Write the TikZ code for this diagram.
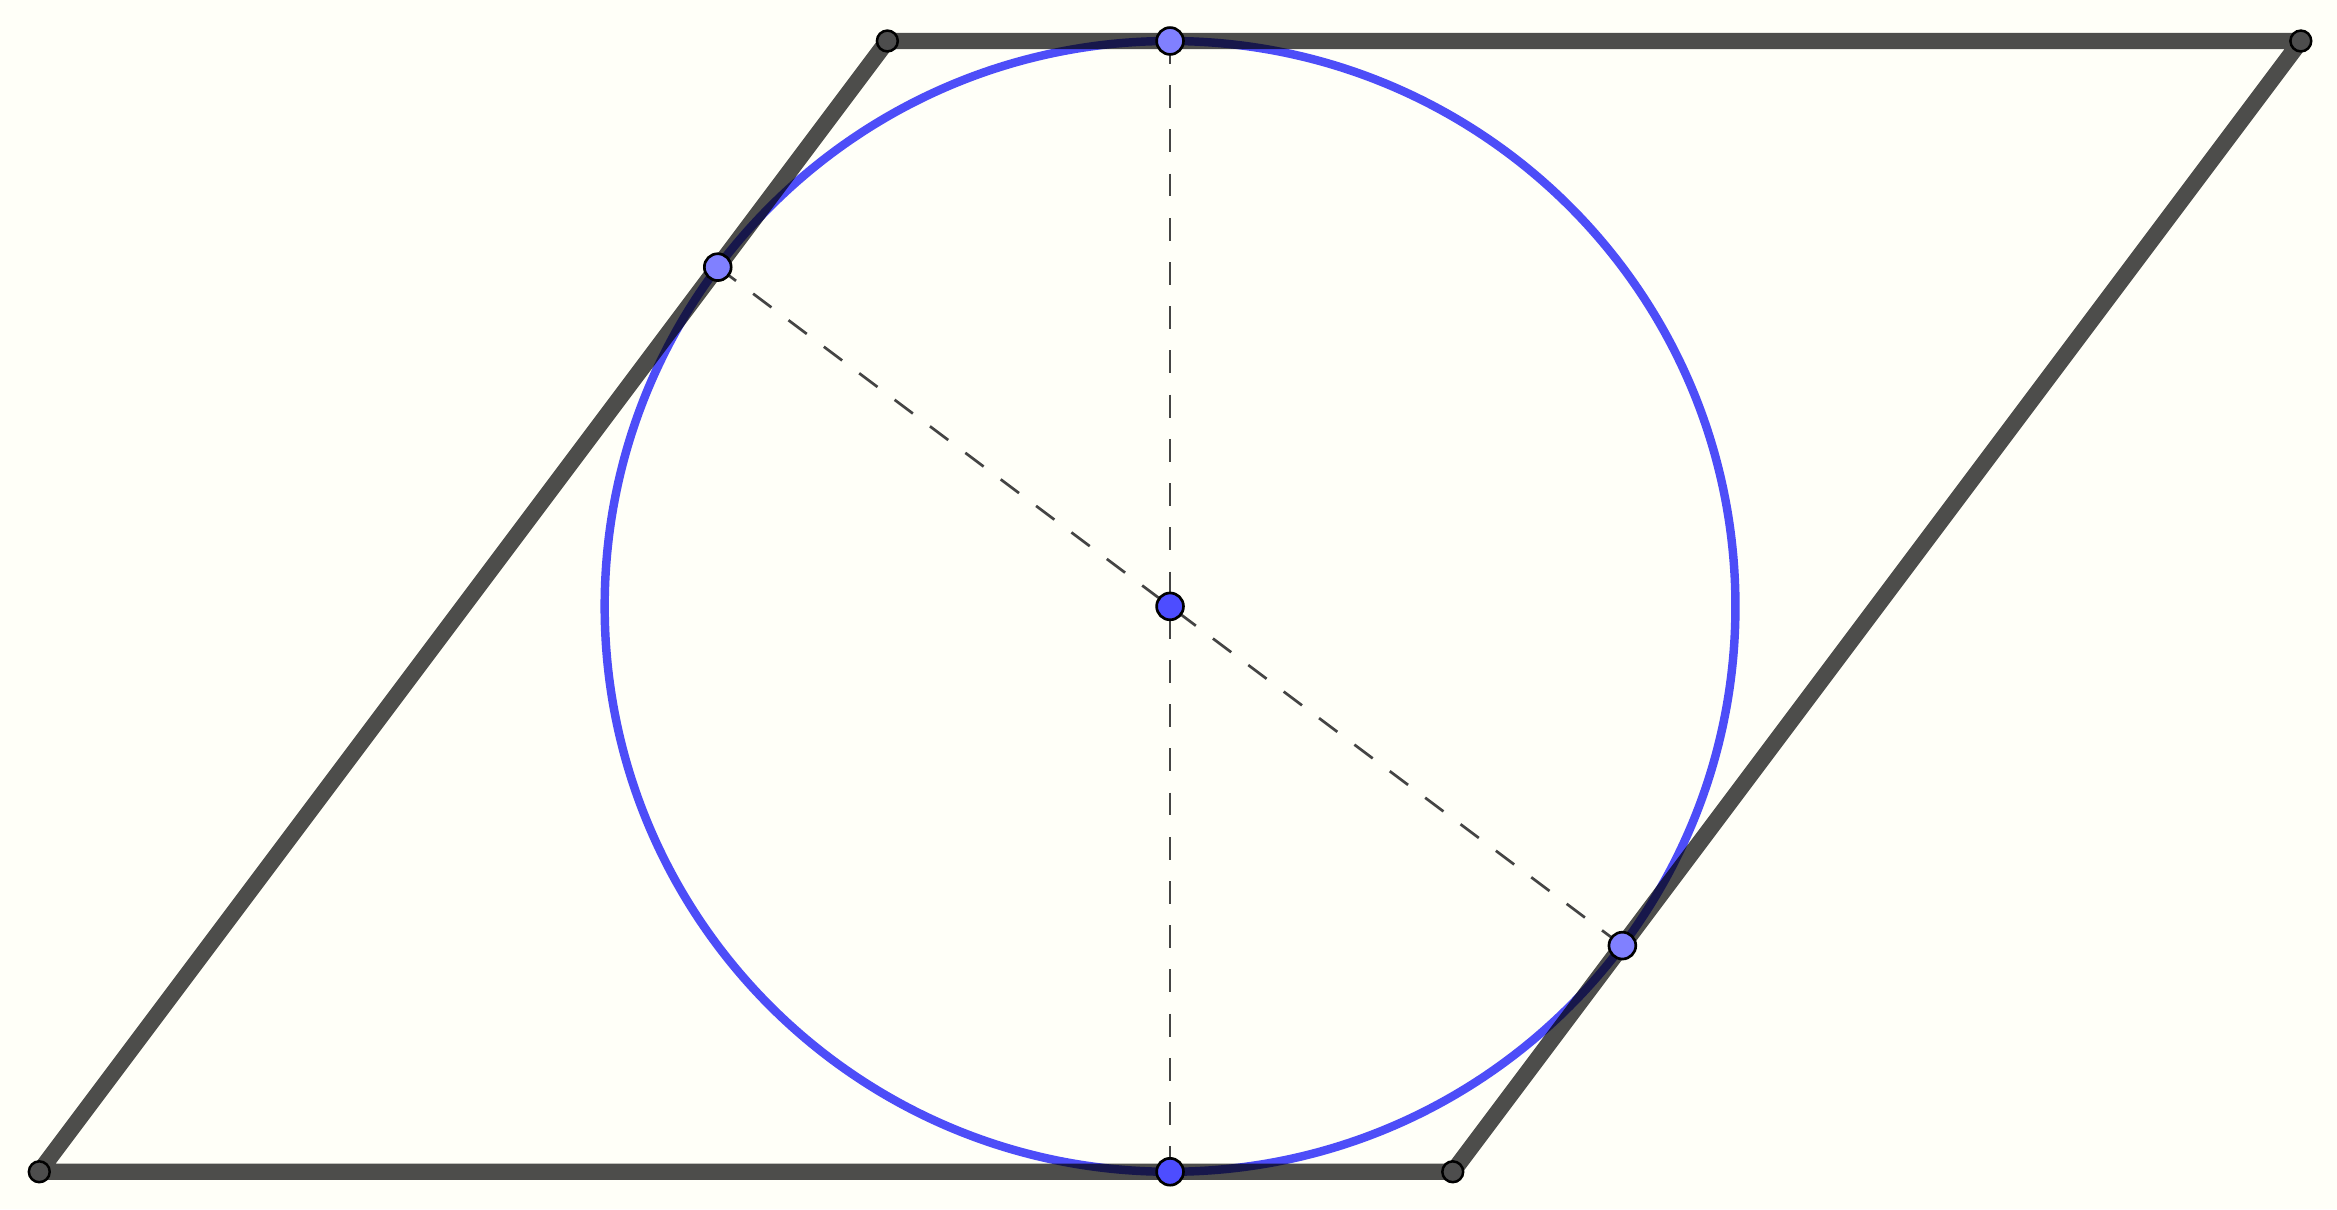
\documentclass[tikz,border=0pt]{standalone}
\usetikzlibrary{calc}
\definecolor{bgcol}{RGB}{255,255,248}
\definecolor{sidecol}{RGB}{77,77,75}
\definecolor{circcol}{RGB}{77,77,255}
\definecolor{lightpt}{RGB}{128,128,255}
\definecolor{darkpt}{RGB}{77,77,255}
\definecolor{vtxcol}{RGB}{77,77,77}
\definecolor{dashcol}{RGB}{68,68,68}
\tikzset{
  side/.style={draw=sidecol, line width=1.65pt, line cap=round, line join=round},
  incircle/.style={draw=circcol, line width=0.85pt},
  aux/.style={draw=dashcol, line width=0.27pt, dash pattern=on 2.3pt off 2.15pt},
  vtx/.style={circle, draw=black, fill=vtxcol, line width=0.25pt, inner sep=0pt, minimum size=2.1pt},
  onpt/.style={circle, draw=black, fill=lightpt, line width=0.27pt, inner sep=0pt, minimum size=2.7pt},
  freept/.style={circle, draw=black, fill=darkpt, line width=0.27pt, inner sep=0pt, minimum size=2.7pt}
}
\begin{document}
\begin{tikzpicture}[x=1cm,y=1cm]
\fill[bgcol] (-0.139,-0.132) rectangle (8.128,4.145);
\useasboundingbox (-0.139,-0.132) rectangle (8.128,4.145);
\coordinate (A) at (0,0);
\coordinate (B) at (5,0);
\coordinate (C) at (8,4);
\coordinate (D) at (3,4);
\coordinate (O) at (4,2);
\coordinate (T1) at (4,4);
\coordinate (T2) at (4,0);
\coordinate (T3) at (2.4,3.2);
\coordinate (T4) at (5.6,0.8);
% rhombus sides
\draw[side] (A) -- (B) -- (C) -- (D) -- cycle;
% inscribed circle
\begin{scope}[blend mode=multiply]
\draw[incircle] (O) circle (2);
\end{scope}
% dashed diameters
\draw[aux] (T1) -- (T2);
\draw[aux] (T3) -- (T4);
% points
\node[vtx] (pA) at (A) {};
\node[vtx] (pB) at (B) {};
\node[vtx] (pC) at (C) {};
\node[vtx] (pD) at (D) {};
\node[onpt] (pT1) at (T1) {};
\node[onpt] (pT3) at (T3) {};
\node[onpt] (pT4) at (T4) {};
\node[freept] (pT2) at (T2) {};
\node[freept] (pO) at (O) {};
\end{tikzpicture}
\end{document}
